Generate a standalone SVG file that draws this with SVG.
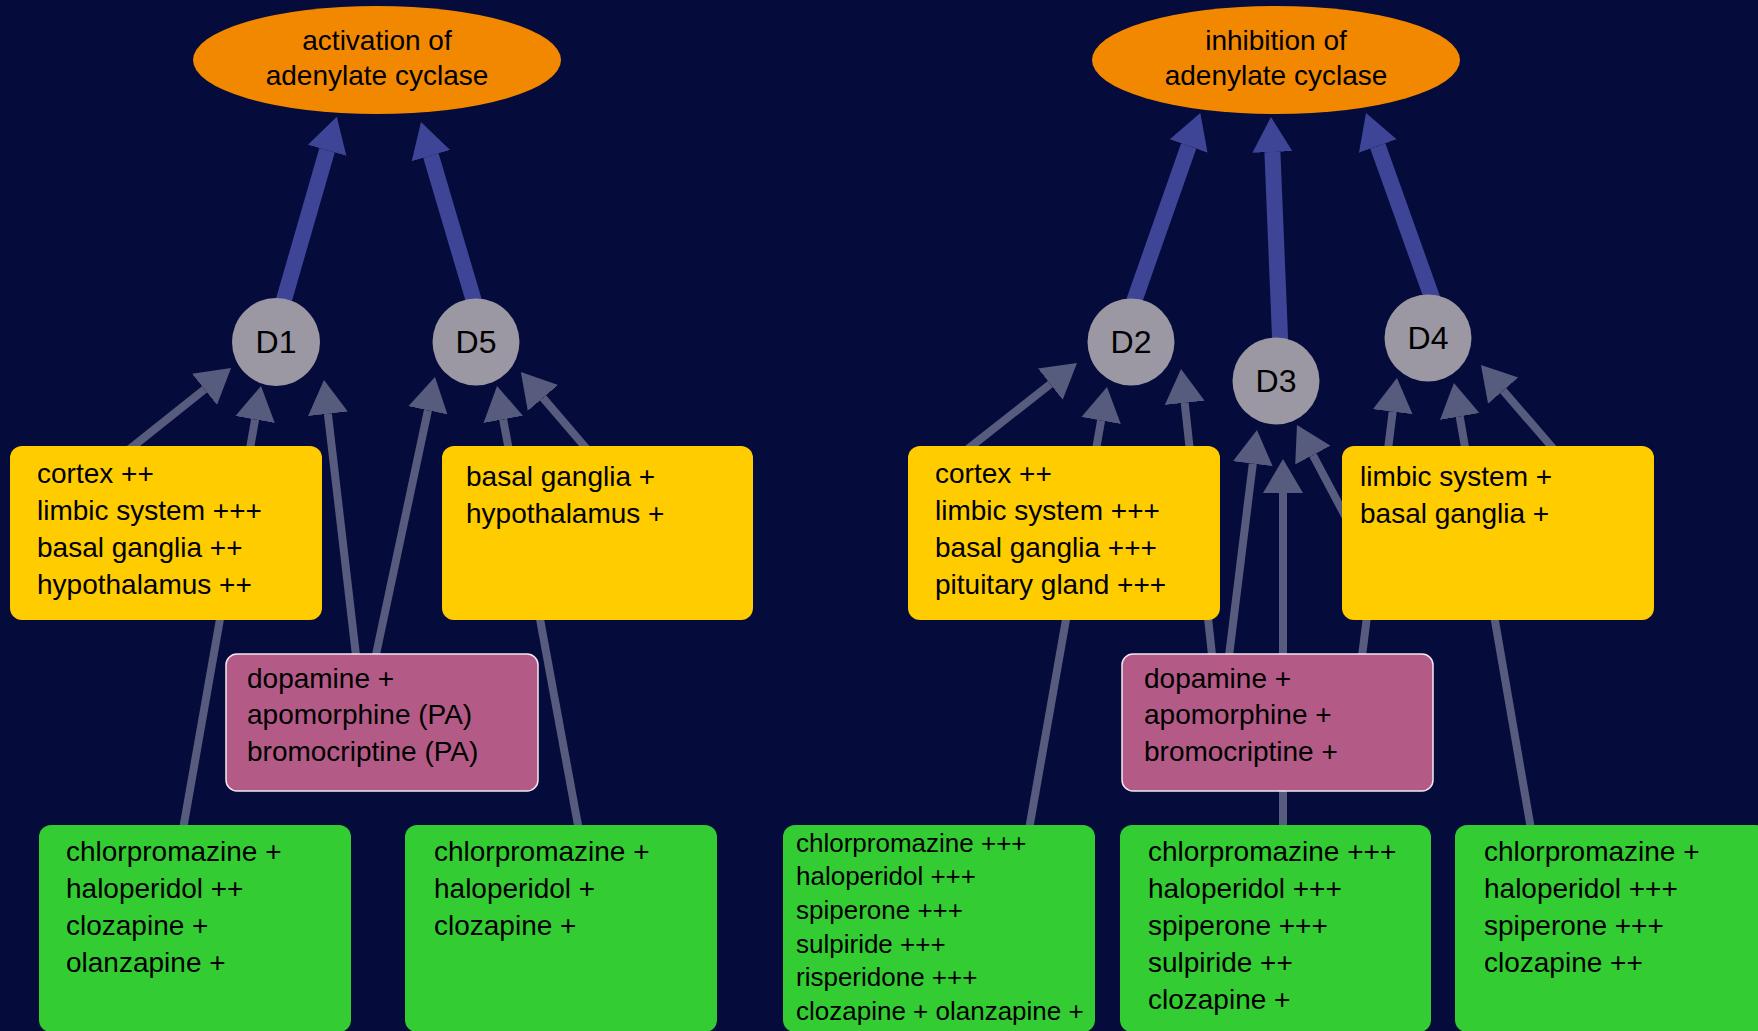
<svg xmlns="http://www.w3.org/2000/svg" width="1758" height="1031" viewBox="0 0 1758 1031">
<defs>
<style>
.bg{fill:#050c3b}
.ell{fill:#f28800}
.rec{fill:#9b98a3}
.yel{fill:#ffcc00}
.grn{fill:#33cc33}
.pnk{fill:#b35a87;stroke:#f2e8f2;stroke-width:1.5}
text{font-family:"Liberation Sans",Arial,sans-serif;fill:#000}
.t{font-size:28px}
.ts{font-size:26px}
.tc{font-size:28px;text-anchor:middle}
.td{font-size:32px;text-anchor:middle}
.thin{stroke:#575b7d;stroke-width:8;fill:none;marker-end:url(#ah)}
.thick{stroke:#3f4596;stroke-width:16;fill:none;marker-end:url(#aht)}
</style>
<marker id="ah" viewBox="0 0 40 44" markerWidth="40" markerHeight="44" refX="0" refY="22" orient="auto" markerUnits="userSpaceOnUse">
<path d="M0,2 L34,22 L0,42 z" fill="#575b7d"/>
</marker>
<marker id="aht" viewBox="0 0 40 44" markerWidth="40" markerHeight="44" refX="0" refY="22" orient="auto" markerUnits="userSpaceOnUse">
<path d="M0,2 L35,22 L0,42 z" fill="#3f4596"/>
</marker>
</defs>
<rect class="bg" x="0" y="0" width="1758" height="1031"/>

<g id="connectors">
<line class="thick" x1="281" y1="310" x2="327.1" y2="150.3"/>
<line class="thick" x1="476.4" y1="309.5" x2="430.9" y2="155.6"/>
<line class="thick" x1="1131" y1="310" x2="1188.7" y2="146"/>
<line class="thick" x1="1280.5" y1="349" x2="1272.4" y2="152"/>
<line class="thick" x1="1435" y1="306" x2="1377.8" y2="146"/>

<line class="thin" x1="126" y1="452" x2="204.5" y2="389.3"/>
<line class="thin" x1="182" y1="835" x2="255.1" y2="419.5"/>
<line class="thin" x1="357" y1="664" x2="327.9" y2="413.8"/>
<line class="thin" x1="374" y1="664" x2="427.9" y2="410.3"/>
<line class="thin" x1="580" y1="836" x2="503.2" y2="419.4"/>
<line class="thin" x1="592" y1="455" x2="543" y2="397.9"/>
<line class="thin" x1="964" y1="452" x2="1050.3" y2="384.1"/>
<line class="thin" x1="1028" y1="835" x2="1101.1" y2="420.5"/>
<line class="thin" x1="1213" y1="664" x2="1184.7" y2="402.8"/>
<line class="thin" x1="1228" y1="664" x2="1252.8" y2="463.7"/>
<line class="thin" x1="1283" y1="835" x2="1283" y2="493"/>
<line class="thin" x1="1360" y1="544" x2="1312.9" y2="455.1"/>
<line class="thin" x1="1361" y1="664" x2="1392.7" y2="411.7"/>
<line class="thin" x1="1532" y1="835" x2="1459.7" y2="416.5"/>
<line class="thin" x1="1558" y1="454" x2="1503.2" y2="390.7"/>
</g>

<g id="activation">
<ellipse class="ell" cx="377" cy="60" rx="184" ry="54"/>
<text class="tc" x="377" y="50">activation of</text>
<text class="tc" x="377" y="85">adenylate cyclase</text>
</g>
<g id="inhibition">
<ellipse class="ell" cx="1276" cy="60" rx="184" ry="54"/>
<text class="tc" x="1276" y="50">inhibition of</text>
<text class="tc" x="1276" y="85">adenylate cyclase</text>
</g>

<g id="D1"><circle class="rec" cx="276" cy="342" r="44"/><text class="td" x="276" y="353">D1</text></g>
<g id="D5"><circle class="rec" cx="476" cy="342" r="43.5"/><text class="td" x="476" y="353">D5</text></g>
<g id="D2"><circle class="rec" cx="1131" cy="342" r="43.5"/><text class="td" x="1131" y="353">D2</text></g>
<g id="D3"><circle class="rec" cx="1276" cy="381" r="43.5"/><text class="td" x="1276" y="392">D3</text></g>
<g id="D4"><circle class="rec" cx="1428" cy="338" r="43.5"/><text class="td" x="1428" y="349">D4</text></g>

<g id="dist1">
<rect class="yel" x="10" y="446" width="312" height="174" rx="12"/>
<text class="t" x="37" y="483">cortex ++</text>
<text class="t" x="37" y="520">limbic system +++</text>
<text class="t" x="37" y="557">basal ganglia ++</text>
<text class="t" x="37" y="594">hypothalamus ++</text>
</g>
<g id="dist5">
<rect class="yel" x="442" y="446" width="311" height="174" rx="12"/>
<text class="t" x="466" y="486">basal ganglia +</text>
<text class="t" x="466" y="523">hypothalamus +</text>
</g>
<g id="dist2">
<rect class="yel" x="908" y="446" width="312" height="174" rx="12"/>
<text class="t" x="935" y="483">cortex ++</text>
<text class="t" x="935" y="520">limbic system +++</text>
<text class="t" x="935" y="557">basal ganglia +++</text>
<text class="t" x="935" y="594">pituitary gland +++</text>
</g>
<g id="dist34">
<rect class="yel" x="1342" y="446" width="312" height="174" rx="12"/>
<text class="t" x="1360" y="486">limbic system +</text>
<text class="t" x="1360" y="523">basal ganglia +</text>
</g>

<g id="agonists1">
<rect class="pnk" x="226" y="654" width="312" height="137" rx="11"/>
<text class="t" x="247" y="688">dopamine +</text>
<text class="t" x="247" y="724">apomorphine (PA)</text>
<text class="t" x="247" y="761">bromocriptine (PA)</text>
</g>
<g id="agonists2">
<rect class="pnk" x="1122" y="654" width="311" height="137" rx="11"/>
<text class="t" x="1144" y="688">dopamine +</text>
<text class="t" x="1144" y="724">apomorphine +</text>
<text class="t" x="1144" y="761">bromocriptine +</text>
</g>

<g id="antag1">
<rect class="grn" x="39" y="825" width="312" height="207" rx="12"/>
<text class="t" x="66" y="861">chlorpromazine +</text>
<text class="t" x="66" y="898">haloperidol ++</text>
<text class="t" x="66" y="935">clozapine +</text>
<text class="t" x="66" y="972">olanzapine +</text>
</g>
<g id="antag5">
<rect class="grn" x="405" y="825" width="312" height="207" rx="12"/>
<text class="t" x="434" y="861">chlorpromazine +</text>
<text class="t" x="434" y="898">haloperidol +</text>
<text class="t" x="434" y="935">clozapine +</text>
</g>
<g id="antag2">
<rect class="grn" x="783" y="825" width="312" height="207" rx="12"/>
<text class="ts" x="796" y="852">chlorpromazine +++</text>
<text class="ts" x="796" y="885">haloperidol +++</text>
<text class="ts" x="796" y="919">spiperone +++</text>
<text class="ts" x="796" y="953">sulpiride +++</text>
<text class="ts" x="796" y="986">risperidone +++</text>
<text class="ts" x="796" y="1020">clozapine + olanzapine +</text>
</g>
<g id="antag3">
<rect class="grn" x="1120" y="825" width="311" height="207" rx="12"/>
<text class="t" x="1148" y="861">chlorpromazine +++</text>
<text class="t" x="1148" y="898">haloperidol +++</text>
<text class="t" x="1148" y="935">spiperone +++</text>
<text class="t" x="1148" y="972">sulpiride ++</text>
<text class="t" x="1148" y="1009">clozapine +</text>
</g>
<g id="antag4">
<rect class="grn" x="1455" y="825" width="312" height="207" rx="12"/>
<text class="t" x="1484" y="861">chlorpromazine +</text>
<text class="t" x="1484" y="898">haloperidol +++</text>
<text class="t" x="1484" y="935">spiperone +++</text>
<text class="t" x="1484" y="972">clozapine ++</text>
</g>
</svg>
